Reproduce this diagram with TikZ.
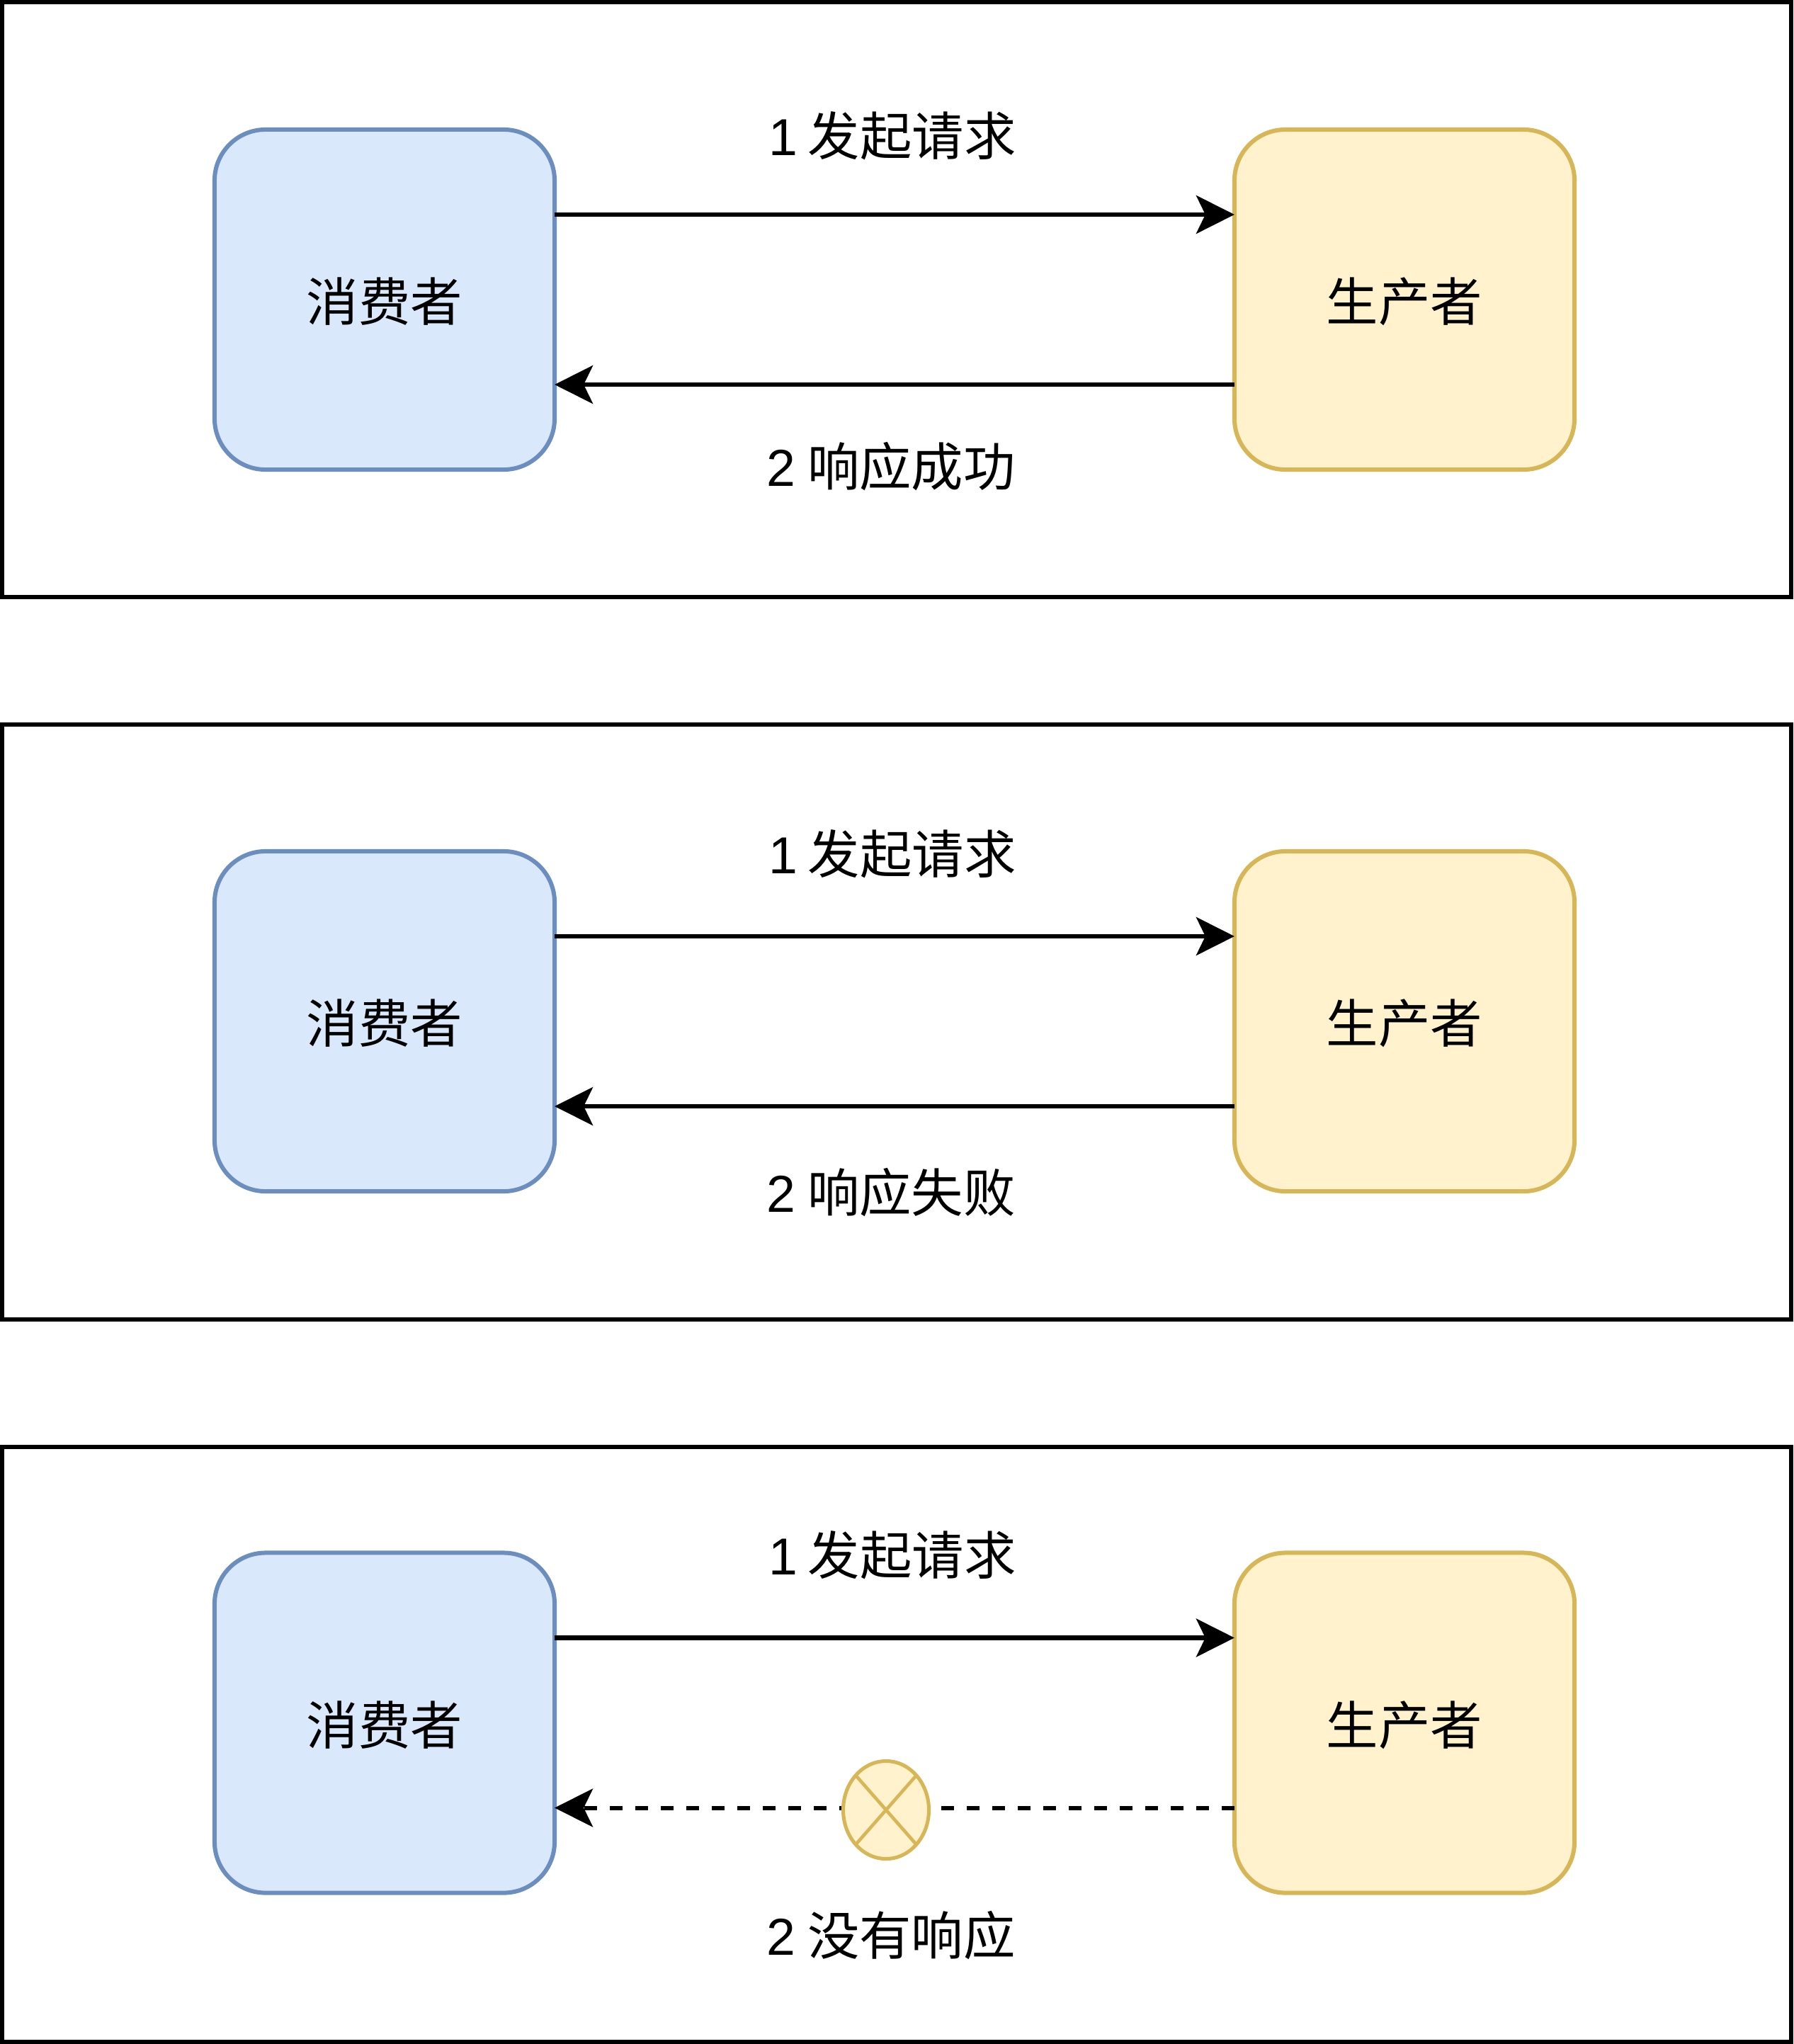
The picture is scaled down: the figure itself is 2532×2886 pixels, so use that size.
\documentclass[tikz,border=0pt]{standalone}
\usepackage{fontspec}
\setmainfont{Liberation Sans}
\newfontfamily\cjk{Noto Sans CJK SC}
\usetikzlibrary{calc,arrows.meta,shapes.geometric}
\definecolor{conFill}{HTML}{DAE8FC}
\definecolor{conLine}{HTML}{6C8EBF}
\definecolor{proFill}{HTML}{FFF2CC}
\definecolor{proLine}{HTML}{D6B656}
\newcommand{\who}[1]{\raisebox{-2.1pt}[\height][\depth]{#1}\hspace{2.8pt}}
\tikzset{
  party/.style={rectangle,rounded corners=51.2pt,minimum width=12cm,minimum height=12cm,
    inner sep=0pt,outer sep=0pt,line width=4.27pt,font=\fontsize{52.2}{60}\selectfont\cjk},
  con/.style={party,draw=conLine,fill=conFill},
  pro/.style={party,draw=proLine,fill=proFill},
  msg/.style={inner sep=0pt,font=\fontsize{52.2}{60}\selectfont},
  flow/.style={line width=4.27pt,-{Stealth[length=38.4pt,width=38.4pt,inset=9.2pt]}},
  frame/.style={line width=4.27pt}
}
\begin{document}
\begin{tikzpicture}[x=0.025cm,y=-0.025cm]
    \useasboundingbox (0,0) rectangle (2532,2886);
    \foreach \i/\ftop/\fbot/\b/\up/\low/\ans in {1/3/843/423/192/659/响应成功,2/1023/1863/1442/1206/1684/响应失败,3/2043/2883/2432.5/2196/2733/没有响应}{
    \draw[frame] (3,\ftop) rectangle (2529,\fbot);
    \node[con] (con\i) at (543,\b) {\who{消费者}};
    \node[pro] (pro\i) at (1983,\b) {\who{生产者}};
    \node[msg] (req\i) at (1260,\up) {1\hspace{0.2em}{\cjk 发起请求}};
    \node[msg] (res\i) at (1258,\low) {2\hspace{0.23em}{\cjk \ans}};
    \draw[flow] ($(con\i.north east)!0.25!(con\i.south east)$) -- ($(pro\i.north west)!0.25!(pro\i.south west)$);
    }
    \draw[flow] ($(pro1.north west)!0.75!(pro1.south west)$) -- ($(con1.north east)!0.75!(con1.south east)$);
    \draw[flow] ($(pro2.north west)!0.75!(pro2.south west)$) -- ($(con2.north east)!0.75!(con2.south east)$);
    \draw[flow,dash pattern=on 12.8pt off 12.8pt] ($(pro3.north west)!0.75!(pro3.south west)$) -- ($(con3.north east)!0.75!(con3.south east)$);
    % no answer
    \node[ellipse,draw=proLine,fill=proFill,line width=3.6pt,inner sep=0pt,outer sep=0pt,minimum width=3.025cm,minimum height=3.45cm] (lost) at (1251,2555.5) {};
    \draw[proLine,line width=3.3pt] (lost.north west) -- (lost.south east);
    \draw[proLine,line width=3.3pt] (lost.north east) -- (lost.south west);
\end{tikzpicture}
\end{document}
